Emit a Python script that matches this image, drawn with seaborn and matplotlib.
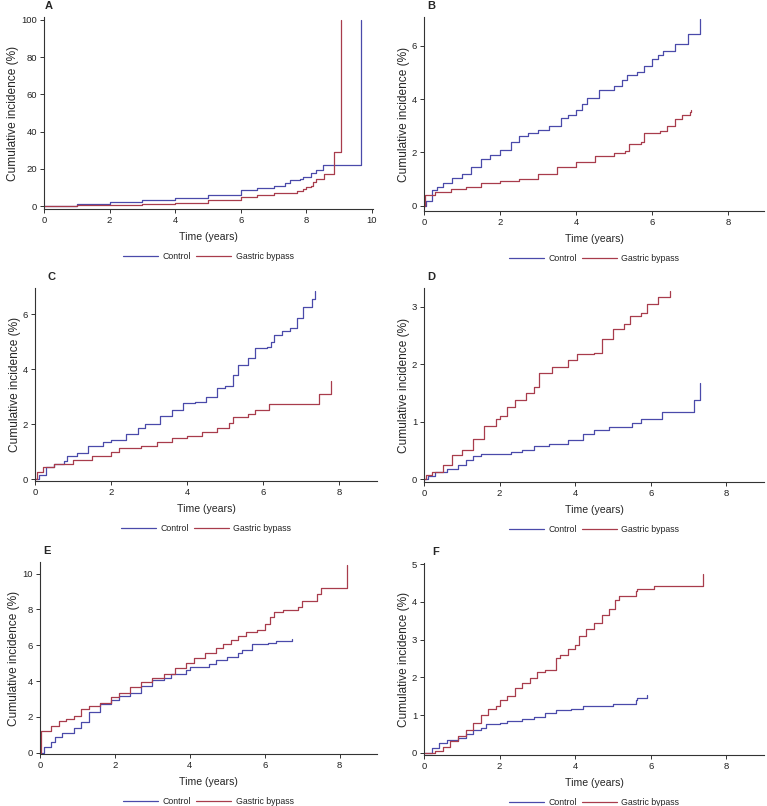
import matplotlib
matplotlib.use("Agg")
import matplotlib.pyplot as plt
import seaborn as sns
import pandas as pd

# cumulative incidence (%), step points (time, value)
a_ctrl_t = [0, 1, 2, 3, 4, 5, 6, 6.5, 7, 7.35, 7.5, 7.8, 7.9, 8.15, 8.25, 8.3, 8.5, 9.65]
a_ctrl_y = [0, 1.0, 2.0, 3.0, 4.5, 6.0, 8.4, 9.8, 11.0, 12.5, 14.0, 14.5, 15.4, 17.5, 17.5, 19.4, 22.0, 100]
a_gb_t = [0, 1, 2, 3, 4, 5, 6, 6.5, 7, 7.7, 7.9, 8.0, 8.15, 8.2, 8.3, 8.55, 8.85, 9.05]
a_gb_y = [0, 0.4, 0.8, 1.3, 1.8, 3.0, 4.8, 5.8, 6.8, 8.0, 9.0, 10.0, 11.0, 13.0, 14.5, 17.0, 29.0, 100]

b_ctrl_t = [0, 0.05, 0.2, 0.35, 0.5, 0.75, 1.0, 1.25, 1.5, 1.75, 2.0, 2.3, 2.5, 2.75, 3.0, 3.3, 3.6, 3.8,
            4.0, 4.15, 4.3, 4.6, 5.0, 5.2, 5.35, 5.6, 5.8, 6.0, 6.15, 6.3, 6.6, 6.95, 7.27]
b_ctrl_y = [0, 0.2, 0.6, 0.7, 0.85, 1.05, 1.2, 1.45, 1.75, 1.9, 2.1, 2.4, 2.62, 2.72, 2.85, 3.0, 3.3, 3.42,
            3.6, 3.8, 4.05, 4.35, 4.5, 4.7, 4.9, 5.0, 5.25, 5.5, 5.65, 5.8, 6.05, 6.45, 7.0]
b_gb_t = [0, 0.02, 0.3, 0.7, 1.1, 1.5, 2.0, 2.5, 3.0, 3.5, 4.0, 4.5, 5.0, 5.3, 5.4, 5.7, 5.8, 6.2, 6.4,
          6.6, 6.8, 7.0, 7.02]
b_gb_y = [0, 0.4, 0.52, 0.65, 0.7, 0.85, 0.92, 1.02, 1.2, 1.45, 1.65, 1.85, 1.97, 2.05, 2.3, 2.4, 2.72,
          2.8, 3.0, 3.25, 3.4, 3.5, 3.6]

c_ctrl_t = [0, 0.1, 0.3, 0.5, 0.75, 0.85, 1.1, 1.4, 1.8, 2.0, 2.4, 2.7, 2.9, 3.3, 3.6, 3.9, 4.2, 4.5,
            4.8, 5.0, 5.2, 5.35, 5.6, 5.8, 6.1, 6.2, 6.3, 6.5, 6.7, 6.9, 7.05, 7.3, 7.38]
c_ctrl_y = [0, 0.15, 0.45, 0.55, 0.65, 0.85, 0.95, 1.2, 1.35, 1.42, 1.65, 1.85, 2.0, 2.3, 2.5, 2.75, 2.82,
            3.0, 3.3, 3.4, 3.8, 4.15, 4.4, 4.75, 4.8, 5.0, 5.25, 5.4, 5.5, 5.85, 6.25, 6.55, 6.85]
c_gb_t = [0, 0.05, 0.2, 0.5, 1.0, 1.5, 2.0, 2.2, 2.8, 3.2, 3.6, 4.0, 4.4, 4.8, 5.1, 5.2, 5.6, 5.8,
          6.15, 7.48, 7.8]
c_gb_y = [0, 0.25, 0.45, 0.55, 0.7, 0.85, 1.0, 1.12, 1.2, 1.35, 1.5, 1.58, 1.72, 1.85, 2.05, 2.25, 2.35,
          2.5, 2.72, 3.08, 3.55]

d_ctrl_t = [0, 0.1, 0.3, 0.6, 0.9, 1.1, 1.3, 1.5, 2.3, 2.6, 2.9, 3.3, 3.8, 4.2, 4.5, 4.9, 5.5, 5.75,
            6.3, 7.15, 7.3]
d_ctrl_y = [0, 0.05, 0.12, 0.18, 0.25, 0.33, 0.4, 0.43, 0.47, 0.5, 0.57, 0.62, 0.68, 0.78, 0.85, 0.9,
            0.98, 1.05, 1.17, 1.38, 1.68]
d_gb_t = [0, 0.05, 0.2, 0.5, 0.75, 1.0, 1.3, 1.6, 1.9, 2.0, 2.2, 2.4, 2.7, 2.9, 3.05, 3.4, 3.8, 4.05,
          4.5, 4.7, 5.0, 5.3, 5.45, 5.75, 5.9, 6.2, 6.5]
d_gb_y = [0, 0.08, 0.12, 0.25, 0.42, 0.5, 0.7, 0.92, 1.05, 1.1, 1.25, 1.38, 1.5, 1.6, 1.85, 1.95, 2.08,
          2.18, 2.2, 2.45, 2.62, 2.7, 2.85, 2.9, 3.05, 3.17, 3.28]

e_ctrl_t = [0, 0.1, 0.3, 0.4, 0.6, 0.9, 1.1, 1.3, 1.6, 1.9, 2.1, 2.4, 2.7, 3.0, 3.3, 3.5, 3.9, 4.0,
            4.5, 4.7, 5.0, 5.3, 5.4, 5.65, 6.1, 6.3, 6.72]
e_ctrl_y = [0, 0.3, 0.6, 0.9, 1.1, 1.4, 1.7, 2.25, 2.7, 2.95, 3.15, 3.35, 3.7, 4.05, 4.2, 4.4, 4.6, 4.8,
            4.95, 5.2, 5.35, 5.55, 5.75, 6.05, 6.15, 6.25, 6.35]
e_gb_t = [0, 0.02, 0.3, 0.5, 0.7, 0.9, 1.1, 1.3, 1.6, 1.9, 2.1, 2.4, 2.7, 3.0, 3.3, 3.6, 3.9, 4.1,
          4.4, 4.7, 4.9, 5.1, 5.3, 5.5, 5.8, 6.0, 6.15, 6.25, 6.5, 6.9, 7.0, 7.4, 7.5, 8.2]
e_gb_y = [0, 1.22, 1.5, 1.75, 1.9, 2.05, 2.45, 2.6, 2.8, 3.1, 3.35, 3.65, 3.95, 4.2, 4.4, 4.75, 5.0,
          5.3, 5.55, 5.85, 6.05, 6.3, 6.5, 6.75, 6.85, 7.2, 7.6, 7.85, 7.95, 8.15, 8.5, 8.85, 9.2, 10.5]

f_ctrl_t = [0, 0.2, 0.4, 0.6, 0.9, 1.1, 1.3, 1.5, 1.65, 2.0, 2.2, 2.6, 2.9, 3.2, 3.5, 3.9, 4.2, 5.0,
            5.6, 5.65, 5.9]
f_ctrl_y = [0, 0.12, 0.25, 0.35, 0.4, 0.5, 0.6, 0.65, 0.75, 0.78, 0.85, 0.9, 0.95, 1.05, 1.12, 1.17,
            1.25, 1.3, 1.4, 1.45, 1.52]
f_gb_t = [0, 0.3, 0.5, 0.7, 0.9, 1.1, 1.3, 1.5, 1.7, 1.9, 2.0, 2.2, 2.4, 2.6, 2.8, 3.0, 3.2, 3.5, 3.6,
          3.8, 4.0, 4.1, 4.3, 4.5, 4.7, 4.9, 5.05, 5.15, 5.6, 5.65, 6.1, 7.38]
f_gb_y = [0, 0.05, 0.15, 0.3, 0.45, 0.6, 0.8, 1.0, 1.15, 1.25, 1.4, 1.5, 1.72, 1.85, 1.97, 2.15, 2.2,
          2.5, 2.6, 2.75, 2.85, 3.1, 3.28, 3.45, 3.65, 3.8, 4.05, 4.15, 4.3, 4.35, 4.43, 4.75]

panels = [
    ("A", a_ctrl_t, a_ctrl_y, a_gb_t, a_gb_y, [0, 20, 40, 60, 80, 100], [0, 2, 4, 6, 8, 10]),
    ("B", b_ctrl_t, b_ctrl_y, b_gb_t, b_gb_y, [0, 2, 4, 6], [0, 2, 4, 6, 8]),
    ("C", c_ctrl_t, c_ctrl_y, c_gb_t, c_gb_y, [0, 2, 4, 6], [0, 2, 4, 6, 8]),
    ("D", d_ctrl_t, d_ctrl_y, d_gb_t, d_gb_y, [0, 1, 2, 3], [0, 2, 4, 6, 8]),
    ("E", e_ctrl_t, e_ctrl_y, e_gb_t, e_gb_y, [0, 2, 4, 6, 8, 10], [0, 2, 4, 6, 8]),
    ("F", f_ctrl_t, f_ctrl_y, f_gb_t, f_gb_y, [0, 1, 2, 3, 4, 5], [0, 2, 4, 6, 8]),
]

# axes boxes in pixels: left, top, right, bottom ; limits
W, H = 767, 806
boxes = [(44, 17, 373, 209), (424, 17, 764, 211),
         (35, 288, 377, 481), (424, 288, 764, 482),
         (40, 562, 377, 754), (424, 563, 764, 755)]
xlims = [(0, 10.03), (0, 8.95), (0, 9.0), (0, 9.0), (0, 9.0), (0, 9.0)]
ylims = [(-1.6, 101.6), (-0.19, 7.07), (-0.07, 6.95), (-0.05, 3.33), (-0.07, 10.65), (-0.06, 5.03)]
label_dx = [5, 7, 16, 7, 7, 12]

sns.set_theme(style="ticks")
plt.rcParams['font.family'] = ['Liberation Sans', 'DejaVu Sans']

BLUE = "#4a4aaa"
RED = "#a83c4c"

fig = plt.figure(figsize=(W / 100, H / 100), dpi=100)

for (name, ct, cy, gt, gy, yt, xt), (l, t, r, b), xl, yl, dx in zip(panels, boxes, xlims, ylims, label_dx):
    ax = fig.add_axes([l / W, 1 - b / H, (r - l) / W, (b - t) / H])
    df = pd.concat([
        pd.DataFrame({"t": ct, "ci": cy, "grp": "Control"}),
        pd.DataFrame({"t": gt, "ci": gy, "grp": "Gastric bypass"}),
    ])
    sns.lineplot(data=df, x="t", y="ci", hue="grp", palette=[BLUE, RED], estimator=None,
                 drawstyle="steps-post", linewidth=0.9, ax=ax)
    ax.set_xlim(*xl)
    ax.set_ylim(*yl)
    ax.set_xticks(xt)
    ax.set_yticks(yt)
    ax.tick_params(labelsize=6.8, length=3, width=0.7, color="#333333", pad=2, labelcolor="#222222")
    for s in ["left", "bottom"]:
        ax.spines[s].set_linewidth(0.8)
        ax.spines[s].set_color("#333333")
    sns.despine(ax=ax)
    ax.set_xlabel("Time (years)", fontsize=7.6, labelpad=5)
    ax.set_ylabel("Cumulative incidence (%)", fontsize=8.6, labelpad=1.5)
    ax.legend(loc="upper center", bbox_to_anchor=(0.5, -0.205), ncol=2, frameon=False,
              fontsize=6.3, handlelength=4.0, columnspacing=0.6, handletextpad=0.5,
              borderaxespad=0)
    fig.text((l + dx) / W, 1 - (t - 11) / H, name, fontsize=8, fontweight="bold",
             ha="center", va="center")

fig.savefig("out.png", dpi=100)
